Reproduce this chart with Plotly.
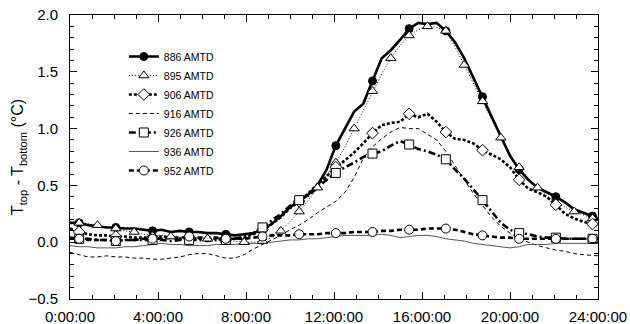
import plotly.graph_objects as go

# time grid (hours) -- 25-minute sampling, last point at 24:00
hours = [round(i * 5 / 12, 4) for i in range(58)] + [24.0]

amtd_886 = [0.17, 0.17, 0.15, 0.14, 0.13, 0.13, 0.12, 0.12, 0.11, 0.10,
            0.11, 0.09, 0.10, 0.09, 0.09, 0.08, 0.08, 0.07, 0.06, 0.07,
            0.08, 0.11, 0.16, 0.23, 0.31, 0.36, 0.42, 0.50, 0.64, 0.85,
            1.00, 1.15, 1.22, 1.42, 1.62, 1.69, 1.78, 1.88, 1.93, 1.92,
            1.93, 1.86, 1.76, 1.62, 1.45, 1.28, 1.10, 0.93, 0.76, 0.64,
            0.55, 0.48, 0.44, 0.40, 0.35, 0.29, 0.26, 0.23, 0.21]

amtd_895 = [0.18, 0.17, 0.16, 0.15, 0.13, 0.12, 0.10, 0.09, 0.07, 0.06,
            0.06, 0.05, 0.04, 0.04, 0.03, 0.03, 0.02, 0.02, 0.01, 0.00,
            0.00, 0.01, 0.04, 0.10, 0.18, 0.27, 0.37, 0.48, 0.58, 0.70,
            0.84, 1.00, 1.17, 1.33, 1.48, 1.62, 1.73, 1.82, 1.87, 1.90,
            1.89, 1.86, 1.72, 1.56, 1.40, 1.24, 1.07, 0.92, 0.78, 0.66,
            0.56, 0.48, 0.41, 0.35, 0.31, 0.27, 0.24, 0.21, 0.20]

amtd_906 = [0.12, 0.09, 0.07, 0.06, 0.06, 0.05, 0.05, 0.04, 0.04, 0.04,
            0.05, 0.04, 0.03, 0.04, 0.03, 0.03, 0.03, 0.03, 0.03, 0.04,
            0.07, 0.11, 0.16, 0.22, 0.30, 0.36, 0.43, 0.51, 0.58, 0.66,
            0.72, 0.79, 0.87, 0.96, 1.03, 1.05, 1.06, 1.13, 1.10, 1.13,
            1.06, 0.97, 0.91, 0.90, 0.87, 0.81, 0.77, 0.73, 0.66, 0.55,
            0.47, 0.44, 0.40, 0.33, 0.25, 0.21, 0.18, 0.16, 0.15]

amtd_916 = [-0.09, -0.11, -0.13, -0.13, -0.12, -0.13, -0.13, -0.14, -0.14, -0.15,
            -0.15, -0.14, -0.13, -0.11, -0.10, -0.10, -0.12, -0.14, -0.14, -0.11,
            -0.06, -0.02, 0.02, 0.06, 0.11, 0.15, 0.20, 0.26, 0.31, 0.36,
            0.44, 0.57, 0.74, 0.84, 0.91, 0.97, 1.01, 1.00, 1.00, 0.95,
            0.90, 0.80, 0.67, 0.55, 0.43, 0.32, 0.22, 0.14, 0.08, 0.03,
            0.00, -0.03, -0.05, -0.07, -0.08, -0.10, -0.11, -0.12, -0.12]

amtd_926 = [0.04, 0.03, 0.03, 0.02, 0.02, 0.01, 0.02, 0.02, 0.02, 0.02,
            0.02, 0.01, 0.02, 0.02, 0.02, 0.01, 0.02, 0.02, 0.03, 0.05,
            0.08, 0.13, 0.19, 0.25, 0.32, 0.37, 0.41, 0.48, 0.55, 0.61,
            0.66, 0.70, 0.75, 0.78, 0.80, 0.85, 0.89, 0.86, 0.82, 0.80,
            0.77, 0.73, 0.64, 0.56, 0.47, 0.37, 0.27, 0.17, 0.11, 0.08,
            0.07, 0.05, 0.04, 0.04, 0.03, 0.03, 0.03, 0.03, 0.03]

amtd_936 = [-0.03, -0.04, -0.04, -0.05, -0.05, -0.05, -0.04, -0.04, -0.03, -0.02,
            -0.01, -0.02, -0.02, -0.03, -0.03, -0.03, -0.02, -0.02, -0.02, -0.01,
            -0.01, -0.01, 0.00, 0.01, 0.02, 0.02, 0.03, 0.03, 0.04, 0.05,
            0.06, 0.06, 0.06, 0.06, 0.07, 0.06, 0.04, 0.05, 0.06, 0.06,
            0.05, 0.03, 0.02, 0.01, -0.01, -0.02, -0.03, -0.04, -0.05, -0.04,
            -0.02, -0.02, -0.02, -0.01, -0.01, -0.01, -0.01, -0.01, -0.01]

amtd_952 = [0.03, 0.03, 0.02, 0.02, 0.02, 0.01, 0.02, 0.02, 0.03, 0.03,
            0.03, 0.04, 0.04, 0.05, 0.04, 0.04, 0.04, 0.03, 0.03, 0.03,
            0.04, 0.05, 0.06, 0.06, 0.06, 0.07, 0.07, 0.07, 0.08, 0.08,
            0.08, 0.09, 0.09, 0.09, 0.10, 0.10, 0.11, 0.11, 0.11, 0.12,
            0.12, 0.12, 0.11, 0.09, 0.07, 0.06, 0.05, 0.04, 0.04, 0.03,
            0.03, 0.03, 0.03, 0.03, 0.03, 0.03, 0.03, 0.03, 0.03]

series_names = ["886 AMTD", "895 AMTD", "906 AMTD", "916 AMTD",
                "926 AMTD", "936 AMTD", "952 AMTD"]

x_tick_vals = [0, 4, 8, 12, 16, 20, 24]
x_tick_text = ["0:00:00", "4:00:00", "8:00:00", "12:00:00",
               "16:00:00", "20:00:00", "24:00:00"]

# (values, line style, marker symbol, marker fill, marker step, marker size)
styles = [
    (amtd_886, dict(color="black", width=2.6), "circle", "black", 4, 8),
    (amtd_895, dict(color="black", width=1, dash="1px,2px"), "triangle-up", "white", 2, 9),
    (amtd_906, dict(color="black", width=2.6, dash="3px,2px"), "diamond", "white", 4, 9),
    (amtd_916, dict(color="black", width=1, dash="4px,3px"), None, None, 0, 0),
    (amtd_926, dict(color="black", width=2.6, dash="7px,3px,2px,3px"), "square", "white", 4, 9),
    (amtd_936, dict(color="#555555", width=1), None, None, 0, 0),
    (amtd_952, dict(color="black", width=2.6, dash="5px,3px"), "circle", "white", 4, 9),
]

fig = go.Figure()

# lines
for name, (vals, ln, sym, fill, step, size) in zip(series_names, styles):
    fig.add_trace(go.Scatter(x=hours, y=vals, mode="lines", line=ln,
                             showlegend=False, hoverinfo="skip"))

# markers on top
for name, (vals, ln, sym, fill, step, size) in zip(series_names, styles):
    if sym is None:
        continue
    fig.add_trace(go.Scatter(
        x=hours[1:58:step], y=vals[1:58:step], mode="markers",
        marker=dict(symbol=sym, size=size, color=fill,
                    line=dict(color="black", width=1)),
        showlegend=False, hoverinfo="skip"))

# legend entries
for name, (vals, ln, sym, fill, step, size) in zip(series_names, styles):
    if sym is None:
        fig.add_trace(go.Scatter(x=[None], y=[None], mode="lines", line=ln,
                                 name=name))
    else:
        fig.add_trace(go.Scatter(
            x=[None], y=[None], mode="lines+markers", line=ln, name=name,
            marker=dict(symbol=sym, size=size, color=fill,
                        line=dict(color="black", width=1))))

font_family = "Liberation Sans, Arial, Helvetica, sans-serif"

fig.update_layout(
    width=630, height=324,
    margin=dict(l=70, r=32, t=15, b=25),
    paper_bgcolor="white", plot_bgcolor="white",
    font=dict(family=font_family, color="black", size=15),
    legend=dict(x=0.102, y=0.905, xanchor="left", yanchor="top",
                bgcolor="rgba(0,0,0,0)", font=dict(size=10.5),
                tracegroupgap=0),
)

fig.update_xaxes(
    range=[0, 24], tickvals=x_tick_vals, ticktext=x_tick_text,
    ticks="inside", ticklen=7, tickcolor="black", tickwidth=1,
    minor=dict(dtick=1, ticks="inside", ticklen=4, tickcolor="black", tickwidth=1),
    showline=True, linecolor="black", linewidth=1, mirror="allticks",
    showgrid=False, zeroline=False, tickfont=dict(size=15), automargin=False,
    ticklabelstandoff=4,
)
fig.update_yaxes(
    range=[-0.5, 2.0], dtick=0.5, tick0=0, tickformat=".1f",
    ticks="inside", ticklen=7, tickcolor="black", tickwidth=1,
    minor=dict(dtick=0.1, ticks="inside", ticklen=4, tickcolor="black", tickwidth=1),
    showline=True, linecolor="black", linewidth=1, mirror="allticks",
    showgrid=False, zeroline=False, tickfont=dict(size=15), automargin=False,
    ticklabelstandoff=8,
    title=dict(text="T<sub>top</sub> - T<sub>bottom</sub> (°C)",
               font=dict(size=16), standoff=0),
)

fig.write_html("out.html")
